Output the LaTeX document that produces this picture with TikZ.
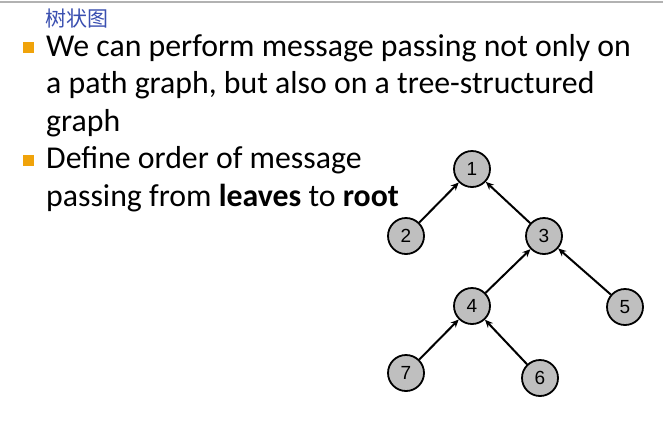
\documentclass[tikz,border=0pt]{standalone}
\usepackage{fontspec}
\setmainfont{Carlito}
\newfontfamily\numfont{Liberation Sans}
\newfontfamily\cjk{Noto Sans CJK SC}
\usetikzlibrary{arrows.meta}

\definecolor{bulletorange}{HTML}{F0A30A}
\definecolor{penblue}{HTML}{3A4FB0}

\tikzset{
	line/.style={anchor=base west, inner sep=0pt, font=\fontsize{31.8}{37.5}\selectfont},
	bullet/.style={fill=bulletorange, minimum size=11pt, inner sep=0pt},
	vertex/.style={circle, draw, line width=1.8pt, fill=gray!50, minimum size=36pt,
		inner sep=0pt, font=\numfont\fontsize{19}{19}\selectfont},
	msg/.style={line width=2pt, -{Stealth[length=8pt, width=7pt]}}
}

\begin{document}
\begin{tikzpicture}[x=1pt, y=-1pt]
	\useasboundingbox (0,0) rectangle (663,445);

	% slide frame and note
	\draw[gray!60, line width=2pt] (0,1.5) -- (663,1.5);
	\node[anchor=base west, inner sep=0pt, text=penblue, font=\cjk\fontsize{21}{21}\selectfont] (note) at (45,26) {树状图};

	% bullet text
	\node[bullet] (b1) at (28,47) {};
	\node[bullet] (b2) at (28,160.5) {};
	\foreach \txt/\y [count=\i] in {
			{We can perform message passing not only on}/56,
			{a path graph, but also on a tree-structured}/93.5,
			{graph}/131,
			{Define order of message}/168.5,
			{passing from \textbf{leaves} to \textbf{root}}/206
		} {
			\node[line] (l\i) at (46,\y) {\txt};
		}

	% tree
	\foreach \name/\x/\y in {
			1/472/169,
			2/406/236,
			3/544/236,
			4/472/306,
			5/625/307,
			7/406/373,
			6/540/378
		} {
			\node[vertex] (n\name) at (\x,\y) {\name};
		}

	% messages go from leaves to root
	\foreach \child/\parent in {2/1, 3/1, 4/3, 5/3, 7/4, 6/4} {
			\draw[msg] (n\child) -- (n\parent);
		}

\end{tikzpicture}
\end{document}
